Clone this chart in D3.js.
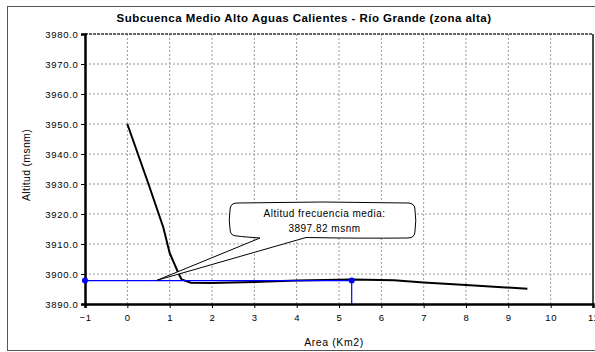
<!DOCTYPE html>
<html>
<head>
<meta charset="utf-8">
<script src="https://cdn.jsdelivr.net/npm/d3@7"></script>
<style>
  html, body { margin: 0; padding: 0; background: #fff; }
  svg { display: block; font-family: Arial, "Liberation Sans", sans-serif; }
</style>
</head>
<body>
<svg id="chart" width="595" height="352"></svg>
<script>
// Hypsometric curve: area above each altitude (km2) vs altitude (msnm)
const areaKm2 = [0, 0.5, 0.85, 1.0, 1.2, 1.28, 1.5, 2.0, 3.0, 4.0, 5.3, 6.3, 7.0, 8.0, 9.45];
const altitud = [3950, 3930, 3915.5, 3907, 3900.5, 3898.2, 3897.1, 3897.0, 3897.3, 3897.8, 3898.2, 3897.9, 3897.2, 3896.3, 3895.1];

// Mean-frequency altitude marker
const mediaAltitud = 3897.82;
const mediaArea = 5.3;
const mediaLabel = ["Altitud frecuencia media:", "3897.82 msnm"];
const calloutTip = { x: 0.7, y: 3897.9 };

// Axis ticks
const xTicks = d3.range(-1, 12, 1);
const yTicks = d3.range(3890, 3981, 10);

const title = "Subcuenca Medio Alto Aguas Calientes - Río Grande (zona alta)";
const xTitle = "Area (Km2)";
const yTitle = "Altitud (msnm)";

const svg = d3.select("#chart");
const plot = { left: 85, right: 593, top: 34, bottom: 304 };

const x = d3.scaleLinear().domain([-1, 11]).range([plot.left, plot.right]);
const y = d3.scaleLinear().domain([3890, 3980]).range([plot.bottom, plot.top]);

// Chart frame
svg.append("rect")
  .attr("x", 7.5).attr("y", 6.5).attr("width", 600).attr("height", 344)
  .attr("fill", "#fff").attr("stroke", "#555").attr("stroke-width", 1);

// Gridlines
svg.append("g").selectAll("line").data(xTicks.filter(d => d > -1 && d < 11)).join("line")
  .attr("x1", d => x(d)).attr("x2", d => x(d))
  .attr("y1", plot.top).attr("y2", plot.bottom)
  .attr("stroke", "#999").attr("stroke-width", 1).attr("stroke-dasharray", "2,2");
svg.append("g").selectAll("line").data(yTicks.filter(d => d > 3890 && d < 3980)).join("line")
  .attr("x1", plot.left).attr("x2", plot.right)
  .attr("y1", d => y(d)).attr("y2", d => y(d))
  .attr("stroke", "#999").attr("stroke-width", 1).attr("stroke-dasharray", "2,2");

// Top edge (dark dashed) and right edge of the plot area
svg.append("line")
  .attr("x1", plot.left).attr("x2", plot.right)
  .attr("y1", y(3980)).attr("y2", y(3980))
  .attr("stroke", "#666").attr("stroke-width", 2).attr("stroke-dasharray", "3,1");
svg.append("line")
  .attr("x1", plot.right).attr("x2", plot.right)
  .attr("y1", plot.top).attr("y2", plot.bottom)
  .attr("stroke", "#111").attr("stroke-width", 1.5);

// Axes
const xAxis = svg.append("g")
  .attr("transform", `translate(0,${plot.bottom})`)
  .call(d3.axisBottom(x).tickValues(xTicks).tickFormat(d3.format("d")).tickSizeOuter(0).tickSize(4).tickPadding(6));
const yAxis = svg.append("g")
  .attr("transform", `translate(${plot.left},0)`)
  .call(d3.axisLeft(y).tickValues(yTicks).tickFormat(d3.format(".1f")).tickSizeOuter(0).tickSize(4).tickPadding(2));

[xAxis, yAxis].forEach(g => {
  g.select(".domain").attr("stroke", "#000").attr("stroke-width", 2.5);
  g.selectAll(".tick line").attr("stroke", "#000").attr("stroke-width", 1);
  g.selectAll(".tick text").attr("fill", "#000").attr("font-size", 9.5)
    .attr("letter-spacing", "0.7px")
    .attr("font-family", "Arial, 'Liberation Sans', sans-serif");
});
yAxis.selectAll(".tick text").attr("dx", "-0.5");

// Hypsometric curve
const pts = areaKm2.map((a, i) => [a, altitud[i]]);
svg.append("path")
  .datum(pts)
  .attr("fill", "none").attr("stroke", "#000").attr("stroke-width", 2)
  .attr("stroke-linejoin", "round")
  .attr("d", d3.line().x(d => x(d[0])).y(d => y(d[1])));

// Mean altitude reference lines
svg.append("path")
  .attr("fill", "none").attr("stroke", "#0000ff").attr("stroke-width", 1.2)
  .attr("d", d3.line()([[x(-1), y(mediaAltitud)], [x(mediaArea), y(mediaAltitud)], [x(mediaArea), y(3890)]]));
svg.append("g").selectAll("circle").data([[-1, mediaAltitud], [mediaArea, mediaAltitud]]).join("circle")
  .attr("cx", d => x(d[0])).attr("cy", d => y(d[1])).attr("r", 3)
  .attr("fill", "#0000ff");

// Callout box with pointer
const bx0 = 230, bx1 = 415, by0 = 203, by1 = 238;
const w0 = 260, w1 = 306;
const tipX = x(calloutTip.x), tipY = y(calloutTip.y);
const r = 7;
const callout = d3.path();
callout.moveTo(bx0 + r, by0);
callout.quadraticCurveTo((bx0 + bx1) / 2, by0 - 2, bx1 - r, by0);
callout.quadraticCurveTo(bx1, by0, bx1, by0 + r);
callout.quadraticCurveTo(bx1 + 1.5, (by0 + by1) / 2, bx1, by1 - r);
callout.quadraticCurveTo(bx1, by1, bx1 - r, by1);
callout.quadraticCurveTo((w1 + bx1) / 2, by1 + 0.5, w1, by1 - 0.5);
callout.lineTo(tipX, tipY);
callout.lineTo(w0, by1);
callout.quadraticCurveTo((bx0 + w0) / 2, by1 - 1, bx0 + r, by1 - 2);
callout.quadraticCurveTo(bx0, by1 - 2, bx0, by1 - 2 - r);
callout.quadraticCurveTo(bx0 - 1.5, (by0 + by1) / 2, bx0, by0 + r);
callout.quadraticCurveTo(bx0, by0, bx0 + r, by0);
callout.closePath();
svg.append("path")
  .attr("d", callout.toString())
  .attr("fill", "#fff").attr("stroke", "#000").attr("stroke-width", 1);

svg.append("g").selectAll("text").data(mediaLabel).join("text")
  .attr("x", (bx0 + bx1) / 2 + 2).attr("y", (d, i) => 217 + i * 14.5)
  .attr("text-anchor", "middle").attr("font-size", 10).attr("letter-spacing", "0.5px").attr("fill", "#000")
  .text(d => d);

// Titles
svg.append("text")
  .attr("x", 304).attr("y", 22)
  .attr("text-anchor", "middle").attr("font-size", 11.5).attr("font-weight", "bold")
  .attr("letter-spacing", "0.45px")
  .text(title);
svg.append("text")
  .attr("x", 334).attr("y", 346)
  .attr("text-anchor", "middle").attr("font-size", 10.5).attr("letter-spacing", "0.6px")
  .text(xTitle);
svg.append("text")
  .attr("transform", `translate(30,165) rotate(-90)`)
  .attr("text-anchor", "middle").attr("font-size", 10.5).attr("letter-spacing", "0.3px")
  .text(yTitle);
</script>
</body>
</html>
